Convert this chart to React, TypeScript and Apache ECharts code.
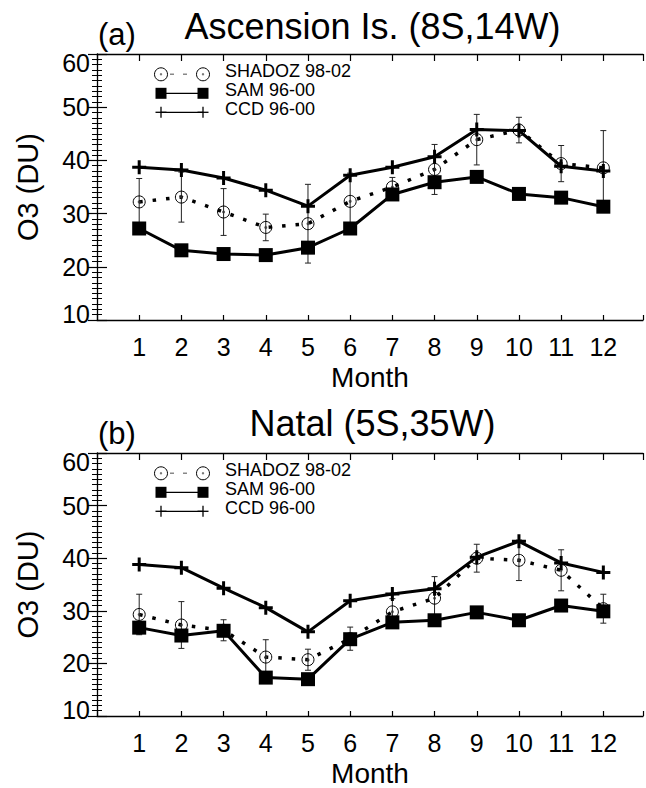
import React, { useEffect, useRef } from "react";
import * as echarts from "echarts";

const FONT = "'Liberation Sans', Arial, Helvetica, sans-serif";

const months = [1, 2, 3, 4, 5, 6, 7, 8, 9, 10, 11, 12];

// Panel (a) Ascension Is.
const shadozA = [32.2, 33.1, 30.3, 27.4, 28.1, 32.3, 35.0, 38.3, 43.9, 45.7, 39.4, 38.6];
const shadozSdA = [4.4, 4.7, 4.4, 2.5, 7.4, 5.3, 1.8, 4.7, 4.75, 2.4, 3.4, 7.0];
const samA = [27.2, 23.1, 22.4, 22.2, 23.6, 27.2, 33.6, 35.9, 36.9, 33.7, 33.0, 31.3];
const ccdA = [38.7, 38.2, 36.7, 34.4, 31.4, 37.2, 38.7, 40.7, 45.8, 45.6, 38.9, 38.0];

// Panel (b) Natal
const shadozB = [29.3, 27.3, 26.3, 21.2, 20.7, 24.7, 29.8, 32.4, 40.0, 39.6, 37.7, 30.4];
const shadozSdB = [3.85, 4.45, 2.0, 3.3, 2.0, 2.2, 2.5, 4.1, 2.65, 3.85, 3.9, 2.75];
const samB = [26.8, 25.3, 26.2, 17.3, 17.0, 24.6, 27.8, 28.2, 29.7, 28.2, 31.0, 29.9];
const ccdB = [38.8, 38.2, 34.3, 30.6, 26.0, 31.9, 33.2, 34.2, 40.2, 43.2, 39.1, 37.3];

const titles = ["Ascension Is. (8S,14W)", "Natal (5S,35W)"];
const panelLabels = ["(a)", "(b)"];
const legendNames = ["SHADOZ 98-02", "SAM 96-00", "CCD 96-00"];
const yTicks = { min: 10, max: 60, interval: 10 };
const xRange = { min: 0, max: 12.94, interval: 1 };

const PLUS = "path://M5.5,0H8.5V5.5H14V8.5H8.5V14H5.5V8.5H0V5.5H5.5Z";

const GRID_LEFT = 97;
const GRID_W = 549;
const GRID_TOPS = [54, 453];
const GRID_H = 266;

function pairs(vals: number[]) {
  return months.map((m, i) => [m, vals[i]]);
}

function buildSeries(p: number, shadoz: number[], sd: number[], sam: number[], ccd: number[]) {
  const xi = p * 2;
  const yi = p * 2;
  const errData = months.map((m, i) => [m, shadoz[i] - sd[i], shadoz[i] + sd[i]]);
  return [
    {
      type: "custom",
      xAxisIndex: xi,
      yAxisIndex: yi,
      data: errData,
      encode: { x: 0, y: [1, 2] },
      z: 1,
      renderItem: (params: any, api: any) => {
        const x = api.value(0);
        const top = api.coord([x, api.value(2)]);
        const bot = api.coord([x, api.value(1)]);
        const w = 3;
        const st = { stroke: "#222", lineWidth: 1 };
        return {
          type: "group",
          children: [
            { type: "line", shape: { x1: top[0], y1: top[1], x2: bot[0], y2: bot[1] }, style: st },
            { type: "line", shape: { x1: top[0] - w, y1: top[1], x2: top[0] + w, y2: top[1] }, style: st },
            { type: "line", shape: { x1: bot[0] - w, y1: bot[1], x2: bot[0] + w, y2: bot[1] }, style: st },
          ],
        };
      },
    },
    {
      type: "line",
      name: legendNames[0],
      xAxisIndex: xi,
      yAxisIndex: yi,
      data: pairs(shadoz),
      z: 2,
      symbol: "circle",
      symbolSize: 12,
      itemStyle: { color: "rgba(0,0,0,0)", borderColor: "#000", borderWidth: 1 },
      lineStyle: { color: "#000", width: 3.5, type: [3.5, 10], cap: "butt" },
    },
    {
      type: "scatter",
      xAxisIndex: xi,
      yAxisIndex: yi,
      data: pairs(shadoz),
      z: 3,
      symbol: "circle",
      symbolSize: 3,
      itemStyle: { color: "#333" },
    },
    {
      type: "line",
      name: legendNames[1],
      xAxisIndex: xi,
      yAxisIndex: yi,
      data: pairs(sam),
      z: 4,
      symbol: "rect",
      symbolSize: 14,
      itemStyle: { color: "#000" },
      lineStyle: { color: "#000", width: 3 },
    },
    {
      type: "line",
      name: legendNames[2],
      xAxisIndex: xi,
      yAxisIndex: yi,
      data: pairs(ccd),
      z: 5,
      symbol: PLUS,
      symbolSize: 14,
      itemStyle: { color: "#000" },
      lineStyle: { color: "#000", width: 3 },
    },
  ];
}

function buildAxes(p: number) {
  const lineStyle = { color: "#000", width: 1.3 };
  const tickStyle = { color: "#000", width: 1.2 };
  const xBottom = {
    gridIndex: p,
    type: "value",
    position: "bottom",
    ...xRange,
    name: "Month",
    nameLocation: "middle",
    nameGap: 43,
    nameTextStyle: { fontSize: 28, fontFamily: FONT, color: "#000" },
    axisLine: { show: true, onZero: false, lineStyle },
    axisTick: { show: true, inside: true, length: 5, lineStyle: tickStyle },
    splitLine: { show: false },
    axisLabel: {
      fontSize: 25,
      fontFamily: FONT,
      color: "#000",
      margin: 14,
      formatter: (v: number) => (Number.isInteger(v) && v >= 1 && v <= 12 ? String(v) : ""),
    },
  };
  const xTop = {
    gridIndex: p,
    type: "value",
    position: "top",
    ...xRange,
    axisLine: { show: true, onZero: false, lineStyle },
    axisTick: { show: true, inside: true, length: 7, lineStyle: tickStyle },
    splitLine: { show: false },
    axisLabel: { show: false },
  };
  const labStyle = { fontSize: 25, fontFamily: FONT, color: "#000" };
  const yLeft = {
    gridIndex: p,
    type: "value",
    position: "left",
    ...yTicks,
    name: "O3 (DU)",
    nameLocation: "middle",
    nameGap: 55,
    nameTextStyle: { fontSize: 29, fontFamily: FONT, color: "#000" },
    axisLine: { show: true, onZero: false, lineStyle },
    axisTick: { show: true, inside: true, length: 10, lineStyle: tickStyle },
    minorTick: { show: true, splitNumber: 10, length: 5, lineStyle: { color: "#000", width: 1 } },
    splitLine: { show: false },
    axisLabel: {
      ...labStyle,
      margin: 7,
      formatter: (v: number) => (v === 60 ? "{t|60}" : v === 10 ? "{b|10}" : String(v)),
      rich: {
        t: { ...labStyle, padding: [18, 0, 0, 0] },
        b: { ...labStyle, padding: [0, 0, 12, 0] },
      },
    },
  };
  const yRight = {
    gridIndex: p,
    type: "value",
    position: "right",
    ...yTicks,
    axisLine: { show: false },
    axisTick: { show: true, inside: true, length: 9, lineStyle: tickStyle },
    minorTick: { show: true, splitNumber: 10, length: 5, lineStyle: { color: "#000", width: 1 } },
    splitLine: { show: false },
    axisLabel: { show: false },
  };
  return { x: [xBottom, xTop], y: [yLeft, yRight] };
}

function buildGraphics(p: number) {
  const dy = GRID_TOPS[p] - GRID_TOPS[0];
  const els: any[] = [];
  els.push({
    type: "text",
    x: GRID_LEFT + GRID_W / 2 + 1,
    y: 26.5 + dy - (p === 1 ? 2 : 0),
    style: { text: titles[p], fontSize: 36, fontFamily: FONT, fill: "#000", align: "center", verticalAlign: "middle" },
  });
  els.push({
    type: "text",
    x: 98,
    y: 34 + dy,
    style: { text: panelLabels[p], fontSize: 31, fontFamily: FONT, fill: "#000", align: "left", verticalAlign: "middle" },
  });
  // legend
  const rows = [74.3 + dy, 93.3 + dy, 112.3 + dy];
  const textYs = [70.5 + dy, 89.5 + dy, 108.5 + dy];
  const xl = 161;
  const xr = 203;
  // row 1: SHADOZ
  els.push({ type: "line", shape: { x1: 170, y1: rows[0], x2: 194, y2: rows[0] }, style: { stroke: "#888", lineWidth: 1.5, lineDash: [4, 9] } });
  [xl, xr].forEach((cx) => {
    els.push({ type: "circle", shape: { cx, cy: rows[0], r: 6.5 }, style: { fill: "none", stroke: "#000", lineWidth: 1 } });
    els.push({ type: "circle", shape: { cx, cy: rows[0], r: 1.2 }, style: { fill: "#777" } });
  });
  // row 2: SAM
  els.push({ type: "line", shape: { x1: xl, y1: rows[1], x2: xr, y2: rows[1] }, style: { stroke: "#000", lineWidth: 1.3 } });
  [xl, xr].forEach((cx) => {
    els.push({ type: "rect", shape: { x: cx - 5.5, y: rows[1] - 5.5, width: 11, height: 11 }, style: { fill: "#000" } });
  });
  // row 3: CCD
  els.push({ type: "line", shape: { x1: xl, y1: rows[2], x2: xr, y2: rows[2] }, style: { stroke: "#000", lineWidth: 1.3 } });
  [xl, xr].forEach((cx) => {
    els.push({ type: "line", shape: { x1: cx - 5.5, y1: rows[2], x2: cx + 5.5, y2: rows[2] }, style: { stroke: "#000", lineWidth: 1.3 } });
    els.push({ type: "line", shape: { x1: cx, y1: rows[2] - 5.5, x2: cx, y2: rows[2] + 5.5 }, style: { stroke: "#000", lineWidth: 1.3 } });
  });
  legendNames.forEach((n, i) => {
    els.push({
      type: "text",
      x: 225,
      y: textYs[i],
      style: { text: n, fontSize: 18, fontFamily: FONT, fill: "#000", align: "left", verticalAlign: "middle" },
    });
  });
  return els;
}

export default function App() {
  const ref = useRef<HTMLDivElement>(null);
  useEffect(() => {
    if (!ref.current) return;
    const chart = echarts.init(ref.current, undefined, { renderer: "svg" });
    const axA = buildAxes(0);
    const axB = buildAxes(1);
    chart.setOption({
      animation: false,
      backgroundColor: "#fff",
      textStyle: { fontFamily: FONT },
      grid: GRID_TOPS.map((top) => ({ left: GRID_LEFT, top, width: GRID_W, height: GRID_H, containLabel: false })),
      xAxis: [...axA.x, ...axB.x],
      yAxis: [...axA.y, ...axB.y],
      series: [
        ...buildSeries(0, shadozA, shadozSdA, samA, ccdA),
        ...buildSeries(1, shadozB, shadozSdB, samB, ccdB),
      ],
      graphic: [...buildGraphics(0), ...buildGraphics(1)],
    });
    return () => chart.dispose();
  }, []);
  return (
    <div
      ref={ref}
      style={{ position: "absolute", left: 0, top: 0, width: 646, height: 788, background: "#fff" }}
    />
  );
}
